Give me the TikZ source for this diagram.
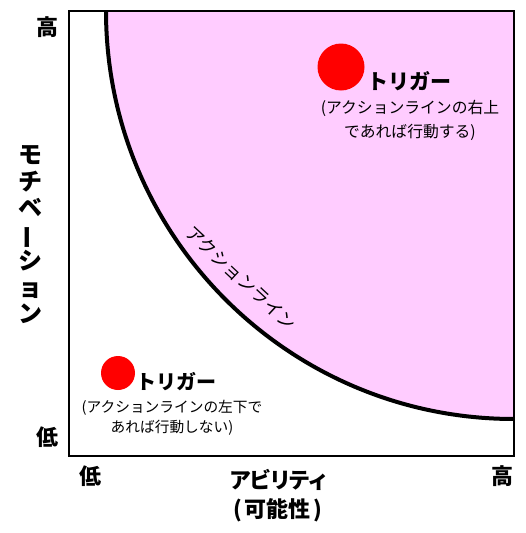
\documentclass[tikz,border=0pt]{standalone}
\usepackage{fontspec}
\setmainfont{Noto Sans CJK JP}
\newfontfamily\paltfont{Noto Sans CJK JP}[RawFeature=+palt]
\usetikzlibrary{positioning}
\definecolor{actpink}{RGB}{255,204,255}
\tikzset{
  axlabel/.style={font=\bfseries\fontsize{22}{29}\selectfont, inner sep=0pt},
  dot/.style={circle, fill=red, inner sep=0pt},
  triglabel/.style={font=\bfseries\fontsize{21}{24}\selectfont, inner sep=0pt, anchor=west},
  note/.style={align=center, inner sep=0pt},
}
\begin{document}
\begin{tikzpicture}[x=1pt,y=-1pt]
            \useasboundingbox (0,0) rectangle (525,533);

            % area above the action line
            \begin{scope}
            \clip (69,11) rectangle (514,456);
            \fill[actpink] (106,11) arc[start angle=180,end angle=90,radius=408] -- (514,11) -- cycle;
            \end{scope}
            \draw[line width=4pt] (106,11) arc[start angle=180,end angle=90,radius=408];
            \draw[line width=1.3pt] (69,11) rectangle (514,456);

            \node[rotate=-43, inner sep=0pt, font=\fontsize{18}{20}\selectfont] (actline) at (241,278) {アクションライン};

            % upper right trigger
            \node[dot, minimum size=47pt] (hidot) at (341,67) {};
            \node[triglabel] (hitrig) at (367,81) {トリガー};
            \node[note, font=\fontsize{15.8}{24}\selectfont] (hinote) at (410,120) {(アクションラインの右上\\であれば行動する)};

            % lower left trigger
            \node[dot, minimum size=34pt] (lodot) at (118,373) {};
            \node[triglabel, font=\bfseries\fontsize{20}{24}\selectfont] (lotrig) at (136,382) {トリガー};
            \node[note, font=\fontsize{14.7}{20}\selectfont] (lonote) at (172,418) {(アクションラインの左下で\\あれば行動しない)};

            % axes
            \node[axlabel] (yhi) at (47,27) {高};
            \node[axlabel] (ylo) at (47,437) {低};
            \node[axlabel] (xlo) at (90,476) {低};
            \node[axlabel] (xhi) at (502,476) {高};
            \node[axlabel, align=center, font=\paltfont\bfseries\fontsize{22}{29}\selectfont] (xname) at (278,496) {アビリティ\\(\hspace{3pt}可能性\hspace{3pt})};
            \node[axlabel, align=center, font=\bfseries\fontsize{24}{26.5}\selectfont] (yname) at (31,235) {モ\\チ\\ベ\\\rotatebox[origin=c]{90}{ー}\\シ\\ョ\\ン};
        \end{tikzpicture}
\end{document}
